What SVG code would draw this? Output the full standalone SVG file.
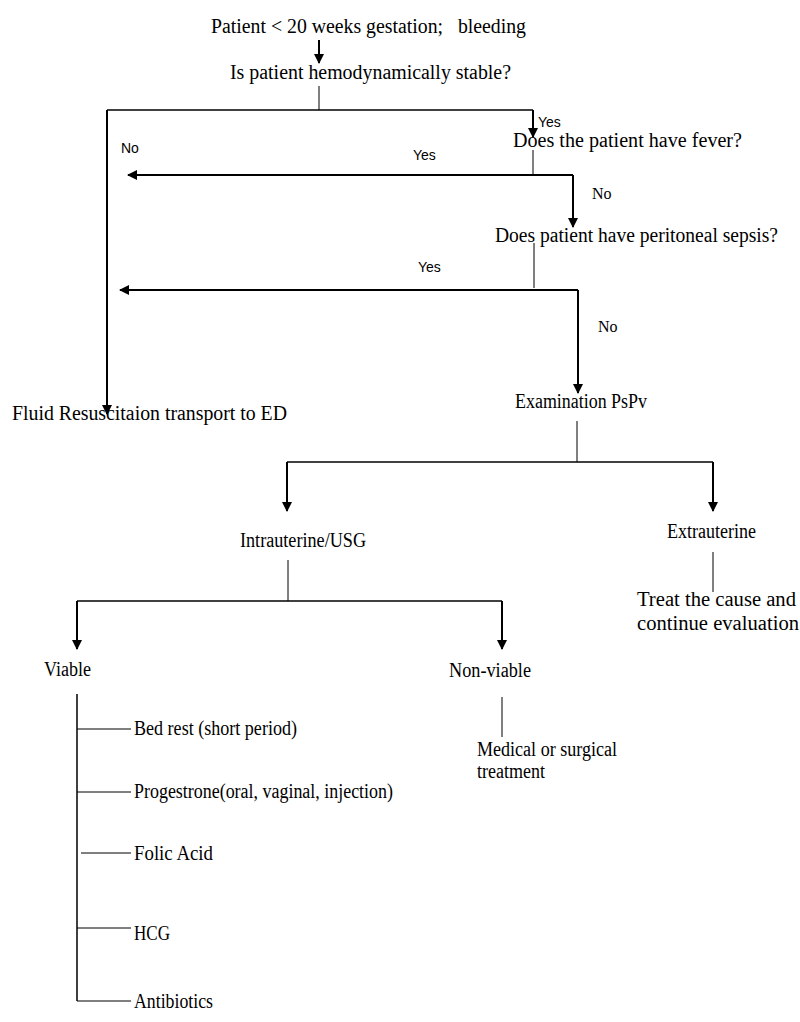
<svg xmlns="http://www.w3.org/2000/svg" width="800" height="1022" viewBox="0 0 800 1022">
<style>
.t{font-family:"Liberation Serif","Times New Roman",serif;font-size:20px;fill:#000}
.s{font-family:"Liberation Sans",Arial,sans-serif;font-size:14px;fill:#000}
.thin{stroke:#000;stroke-width:1;fill:none}
.mid{stroke:#000;stroke-width:1.5;fill:none}
.arr{stroke:#000;stroke-width:2;fill:none;marker-end:url(#ah)}
</style>
<defs>
<marker id="ah" markerUnits="userSpaceOnUse" markerWidth="10" markerHeight="12" refX="9" refY="5" orient="auto" viewBox="0 0 10 10">
<path d="M0,0 L10,5 L0,10 Z" fill="#000"/>
</marker>
</defs>
<rect width="800" height="1022" fill="#fff"/>
<g id="connectors">
<line class="arr" x1="319" y1="40" x2="319" y2="63"/>
<line class="thin" x1="319" y1="86" x2="319" y2="110"/>
<line class="mid" x1="107" y1="110" x2="533" y2="110"/>
<line class="arr" x1="107" y1="110" x2="107" y2="414"/>
<line class="arr" x1="533" y1="110" x2="533" y2="137"/>
<line class="thin" x1="533" y1="150" x2="533" y2="175"/>
<line class="arr" x1="573" y1="175" x2="128" y2="175"/>
<line class="arr" x1="573" y1="175" x2="573" y2="227"/>
<line class="thin" x1="534" y1="243" x2="534" y2="288"/>
<line class="arr" x1="578" y1="290" x2="120" y2="290"/>
<line class="arr" x1="578" y1="290" x2="578" y2="393"/>
<line class="thin" x1="577" y1="421" x2="577" y2="462"/>
<line class="mid" x1="287" y1="462" x2="713" y2="462"/>
<line class="arr" x1="287" y1="462" x2="287" y2="511"/>
<line class="arr" x1="713" y1="462" x2="713" y2="511"/>
<line class="thin" x1="713" y1="552" x2="713" y2="592"/>
<line class="thin" x1="288" y1="560" x2="288" y2="601"/>
<line class="mid" x1="77" y1="601" x2="502" y2="601"/>
<line class="arr" x1="77" y1="601" x2="77" y2="649"/>
<line class="arr" x1="502" y1="601" x2="502" y2="649"/>
<line class="thin" x1="502" y1="697" x2="502" y2="737"/>
<line class="mid" x1="77" y1="694" x2="77" y2="1001"/>
<line class="thin" x1="77" y1="729" x2="131" y2="729"/>
<line class="thin" x1="77" y1="792" x2="131" y2="792"/>
<line class="thin" x1="81" y1="853" x2="131" y2="853"/>
<line class="thin" x1="77" y1="928" x2="131" y2="928"/>
<line class="thin" x1="77" y1="1001" x2="131" y2="1001"/>
</g>
<g id="labels">
<text class="s" x="121" y="153">No</text>
<text class="s" x="538" y="127">Yes</text>
<text class="s" x="413" y="160">Yes</text>
<text class="s" x="418" y="272">Yes</text>
<text class="t" x="592" y="199" style="font-size:16px">No</text>
<text class="t" x="598" y="332" style="font-size:16px">No</text>
</g>
<g id="n-start"><text class="t" x="211" y="33" textLength="315" lengthAdjust="spacingAndGlyphs" xml:space="preserve" style="white-space:pre">Patient &lt; 20 weeks gestation;   bleeding</text></g>
<g id="n-stable"><text class="t" x="230" y="79" textLength="281" lengthAdjust="spacingAndGlyphs">Is patient hemodynamically stable?</text></g>
<g id="n-fever"><text class="t" x="513" y="147" textLength="229" lengthAdjust="spacingAndGlyphs">Does the patient have fever?</text></g>
<g id="n-sepsis"><text class="t" x="495" y="242" textLength="283" lengthAdjust="spacingAndGlyphs">Does patient have peritoneal sepsis?</text></g>
<g id="n-fluid"><text class="t" x="12" y="420" textLength="275" lengthAdjust="spacingAndGlyphs">Fluid Resuscitaion transport to ED</text></g>
<g id="n-exam"><text class="t" x="515" y="408" textLength="132" lengthAdjust="spacingAndGlyphs">Examination PsPv</text></g>
<g id="n-intra"><text class="t" x="240" y="547" textLength="126" lengthAdjust="spacingAndGlyphs">Intrauterine/USG</text></g>
<g id="n-extra"><text class="t" x="667" y="538" textLength="89" lengthAdjust="spacingAndGlyphs">Extrauterine</text></g>
<g id="n-treat">
<text class="t" x="637" y="606" textLength="159" lengthAdjust="spacingAndGlyphs">Treat the cause and</text>
<text class="t" x="637" y="630" textLength="162" lengthAdjust="spacingAndGlyphs">continue evaluation</text>
</g>
<g id="n-viable"><text class="t" x="44" y="676" textLength="47" lengthAdjust="spacingAndGlyphs">Viable</text></g>
<g id="n-nonviable"><text class="t" x="449" y="677" textLength="82" lengthAdjust="spacingAndGlyphs">Non-viable</text></g>
<g id="n-medical">
<text class="t" x="477" y="756" textLength="140" lengthAdjust="spacingAndGlyphs">Medical or surgical</text>
<text class="t" x="477" y="778" textLength="68" lengthAdjust="spacingAndGlyphs">treatment</text>
</g>
<g id="n-bedrest"><text class="t" x="134" y="735" textLength="163" lengthAdjust="spacingAndGlyphs">Bed rest (short period)</text></g>
<g id="n-progest"><text class="t" x="134" y="798" textLength="259" lengthAdjust="spacingAndGlyphs">Progestrone(oral, vaginal, injection)</text></g>
<g id="n-folic"><text class="t" x="134" y="860" textLength="79" lengthAdjust="spacingAndGlyphs">Folic Acid</text></g>
<g id="n-hcg"><text class="t" x="134" y="940" textLength="36" lengthAdjust="spacingAndGlyphs">HCG</text></g>
<g id="n-antibiotics"><text class="t" x="134" y="1008" textLength="79" lengthAdjust="spacingAndGlyphs">Antibiotics</text></g>
</svg>
